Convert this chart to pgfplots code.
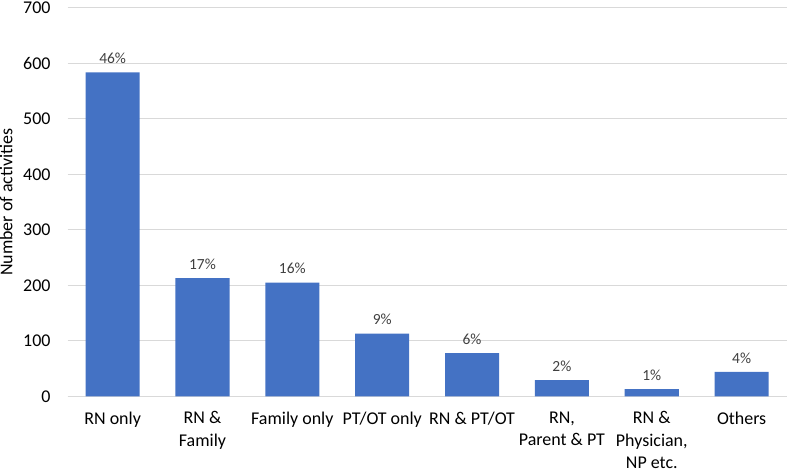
\documentclass[border=0pt]{standalone}
\usepackage{fontspec}
\setmainfont{Carlito}
\usepackage{pgfplots}
\usepackage{pgfplotstable}
\pgfplotsset{compat=1.18}
\definecolor{barblue}{HTML}{4472C4}
\definecolor{gridgray}{HTML}{D9D9D9}
\definecolor{lblgray}{HTML}{404040}
\pgfplotstableread{
x y p
0 584 46
1 213 17
2 205 16
3 113 9
4 78 6
5 29 2
6 13 1
7 44 4
}\datatable
\begin{document}
\begin{tikzpicture}
\begin{axis}[
  scale only axis, width=718bp, height=388bp,
  ymin=0, ymax=700, ytick={0,100,...,700},
  xmin=-0.5, xmax=7.5,
  xtick={0,...,7},
  xticklabels={RN only, {RN \&\\Family}, Family only, PT/OT only, RN \& PT/OT, {RN,\\Parent \& PT}, {RN \&\\Physician,\\NP etc.}, Others},
  xticklabel style={align=center, font=\fontsize{18}{22.5}\selectfont, anchor=north, inner sep=0pt, yshift=-15bp},
  yticklabel style={font=\fontsize{18}{22}\selectfont, anchor=east, inner sep=0pt, xshift=-17bp},
  /pgf/number format/assume math mode=true,
  ylabel={Number of activities},
  ylabel style={font=\fontsize{18}{22}\selectfont, inner sep=0pt, at={(axis description cs:-0.0945,0.5)}, anchor=north},
  ymajorgrids, grid style={gridgray, line width=0.9bp},
  axis lines*=left,
  x axis line style={gridgray, line width=0.9bp},
  y axis line style={draw=none},
  major tick length=0pt,
  ybar, bar width=54bp, bar shift=0pt,
  point meta=explicit,
  nodes near coords={\pgfmathprintnumber{\pgfplotspointmeta}\%},
  nodes near coords style={font=\fontsize{15.5}{18}\selectfont, text=lblgray, anchor=south, yshift=5bp},
  clip=false,
]
\addplot[fill=barblue, draw=none] table[x=x, y=y, meta=p]{\datatable};
\end{axis}
\path ([yshift=2bp]current bounding box.north) ([yshift=-5bp]current bounding box.south);
\end{tikzpicture}
\end{document}
